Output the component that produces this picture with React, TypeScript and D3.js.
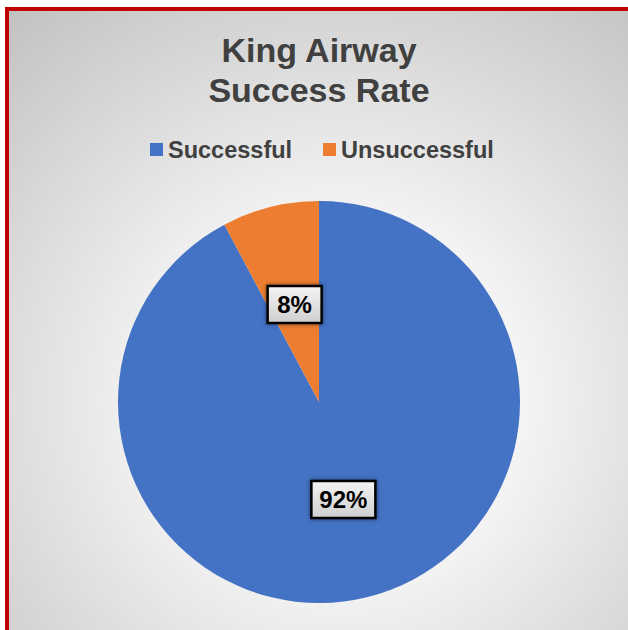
import React from "react";
import * as d3 from "d3";

const categories = ["Successful", "Unsuccessful"];
const values = [92.2, 7.8];
const labels = ["92%", "8%"];
const colors = ["#4472c4", "#ed7d31"];
const titleLines = ["King Airway", "Success Rate"];

const W = 628;
const H = 630;
const cx = 319;
const cy = 402;
const R = 201;

export default function App() {
  const pie = d3.pie<number>().sort(null).value((d) => d)(values);
  const arc = d3.arc<d3.PieArcDatum<number>>().innerRadius(0).outerRadius(R);
  const labelArc = d3.arc<d3.PieArcDatum<number>>().innerRadius(0).outerRadius(R);
  const font = "'Liberation Sans', Arial, sans-serif";

  const legendItems = [
    { x: 150, tx: 168 },
    { x: 323, tx: 341 },
  ];

  return (
    <svg
      width={W}
      height={H}
      style={{ position: "absolute", left: 0, top: 0 }}
      fontFamily={font}
    >
      <defs>
        <radialGradient id="bg" gradientUnits="userSpaceOnUse" cx={340} cy={400} r={540}>
          <stop offset="0" stopColor="#ffffff" />
          <stop offset="0.3" stopColor="#f7f7f7" />
          <stop offset="1" stopColor="#bdbdbd" />
        </radialGradient>
        <linearGradient id="lbl" x1="0" y1="0" x2="0" y2="1">
          <stop offset="0" stopColor="#f4f4f4" />
          <stop offset="1" stopColor="#cfcfcf" />
        </linearGradient>
        <filter id="sh" x="-30%" y="-30%" width="160%" height="160%">
          <feGaussianBlur in="SourceAlpha" stdDeviation="2" />
          <feOffset dx="0" dy="0" result="b" />
          <feComponentTransfer>
            <feFuncA type="linear" slope="0.5" />
          </feComponentTransfer>
          <feMerge>
            <feMergeNode />
            <feMergeNode in="SourceGraphic" />
          </feMerge>
        </filter>
      </defs>
      <rect x={0} y={0} width={W} height={H} fill="#ffffff" />
      <rect x={7} y={9} width={W + 20} height={H + 20} fill="url(#bg)" stroke="#c00000" strokeWidth={4} />

      {titleLines.map((t, i) => (
        <text
          key={t}
          x={cx}
          y={62 + i * 40}
          textAnchor="middle"
          fontSize={34}
          fontWeight="bold"
          fill="#404040"
        >
          {t}
        </text>
      ))}

      {categories.map((c, i) => (
        <g key={c}>
          <rect x={legendItems[i].x} y={143} width={13} height={13} fill={colors[i]} />
          <text x={legendItems[i].tx} y={158} fontSize={23.5} fontWeight="bold" fill="#404040">
            {c}
          </text>
        </g>
      ))}

      <g transform={`translate(${cx},${cy})`}>
        {pie.map((p, i) => (
          <path key={categories[i]} d={arc(p) || ""} fill={colors[i]} />
        ))}
        {pie.map((p, i) => {
          const [lx, ly] = labelArc.centroid(p);
          const w = i === 0 ? 64 : 54;
          const h = 37;
          return (
            <g key={"l" + i} transform={`translate(${lx},${ly})`}>
              <rect
                x={-w / 2}
                y={-h / 2}
                width={w}
                height={h}
                fill="url(#lbl)"
                stroke="#000"
                strokeWidth={2.5}
                filter="url(#sh)"
              />
              <text
                x={0}
                y={8.5}
                textAnchor="middle"
                fontSize={24}
                fontWeight="bold"
                fill="#000"
              >
                {labels[i]}
              </text>
            </g>
          );
        })}
      </g>
    </svg>
  );
}
